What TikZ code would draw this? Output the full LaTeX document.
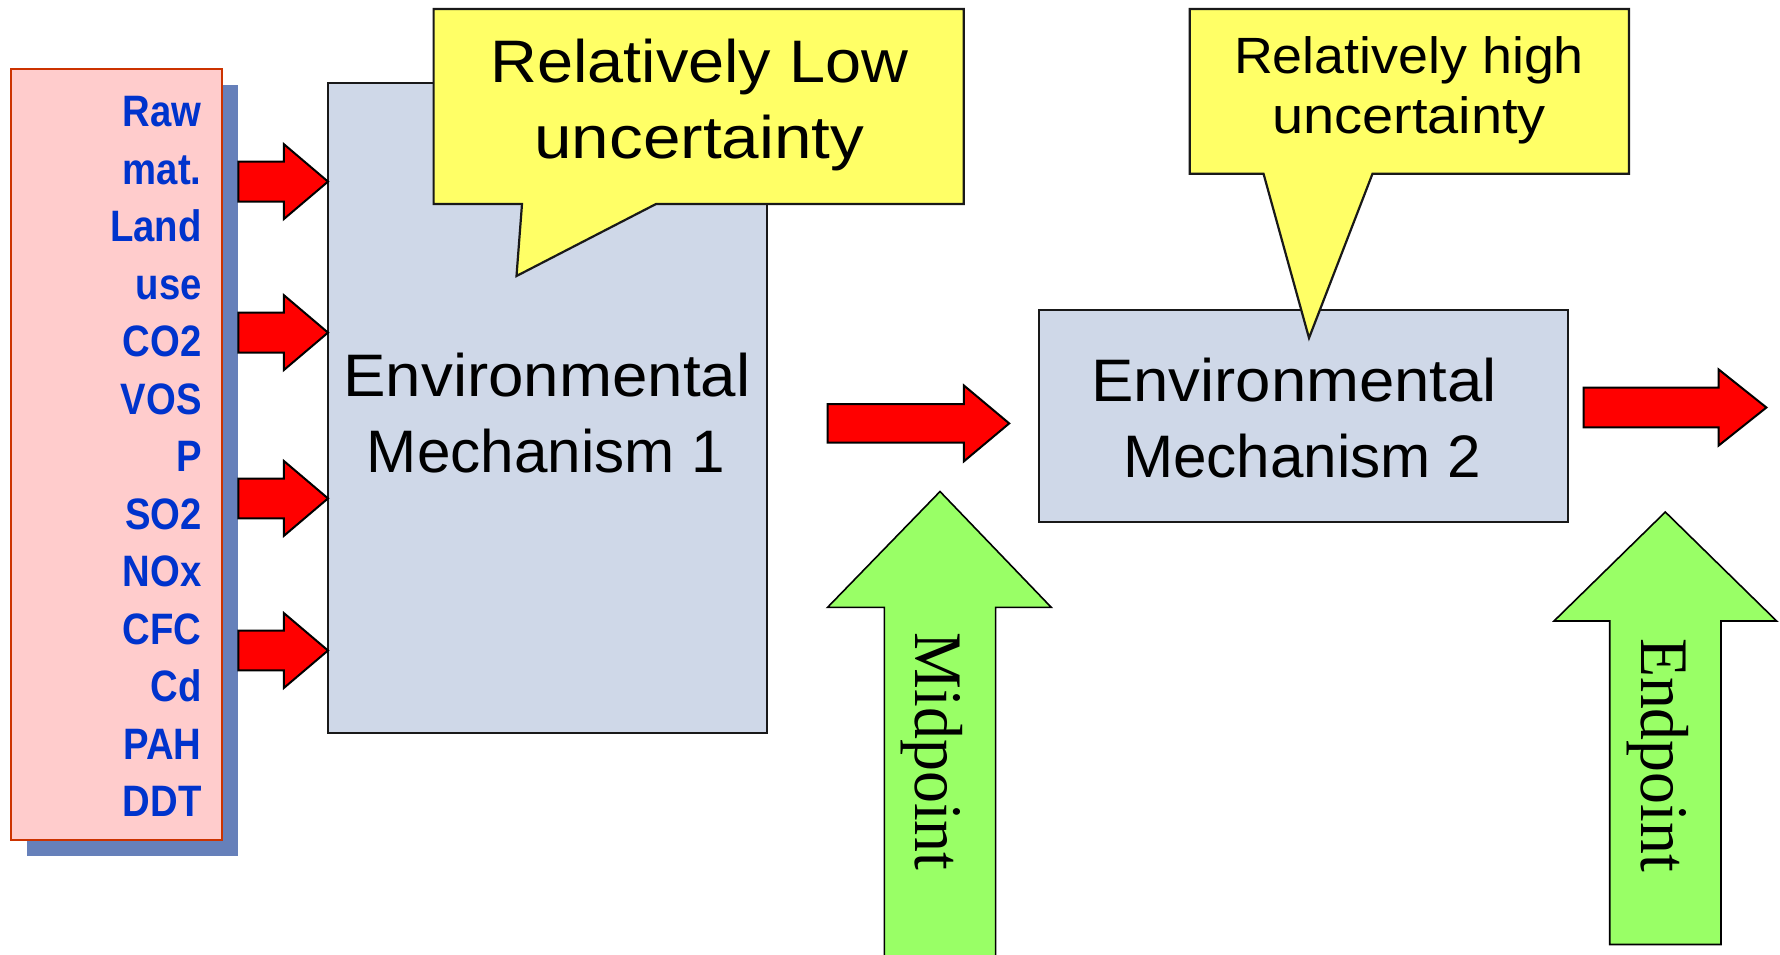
\documentclass[tikz,border=0pt]{standalone}
\usepackage{fontspec}
\usepackage{graphicx}
\setmainfont{Liberation Sans}
\newfontface\listfont[FakeStretch=0.87]{Liberation Sans Bold}
\newfontfamily\seriffont{Liberation Serif}
\newdimen\pxu \pxu=0.5pt
\newcommand{\wfit}[2]{\resizebox{#1\pxu}{\height}{#2}}
\definecolor{pinkfill}{HTML}{FFCCCC}
\definecolor{pinkedge}{HTML}{CC3300}
\definecolor{shadowblue}{HTML}{6680BA}
\definecolor{boxfill}{HTML}{CFD8E8}
\definecolor{calloutyellow}{HTML}{FFFF66}
\definecolor{arrowred}{HTML}{FF0000}
\definecolor{arrowgreen}{HTML}{99FF66}
\definecolor{listblue}{HTML}{0033CC}
\newcommand{\rarrow}[6]{% x0, xhead, xtip, yc, shafthalf, headhalf
  \draw[redarrow] (#1,#4-#5) -- (#2,#4-#5) -- (#2,#4-#6) -- (#3,#4) -- (#2,#4+#6) -- (#2,#4+#5) -- (#1,#4+#5) -- cycle;}
\newcommand{\uarrow}[7]{% xtip, ytip, yheadbase, xheadleft, xheadright, xshaftleft, xshaftright ; bottom in \ybot
  \draw[greenarrow] (#1,#2) -- (#5,#3) -- (#7,#3) -- (#7,\ybot) -- (#6,\ybot) -- (#6,#3) -- (#4,#3) -- cycle;}
\begin{document}
\begin{tikzpicture}[x=0.5pt,y=-0.5pt,
  mechbox/.style={draw=black!90, line width=1.1pt, fill=boxfill, inner sep=0},
  callout/.style={draw=black!90, line width=1.1pt, fill=calloutyellow, line join=miter},
  redarrow/.style={draw=black, line width=1pt, fill=arrowred, line join=miter},
  greenarrow/.style={draw=black, line width=0.8pt, fill=arrowgreen, line join=miter},
  bigtxt/.style={font=\fontsize{30pt}{36pt}\selectfont, anchor=base, inner sep=0},
  hightxt/.style={font=\fontsize{25.5pt}{30pt}\selectfont, anchor=base, inner sep=0},
  listtxt/.style={font=\listfont\fontsize{22pt}{26pt}\selectfont, text=listblue, anchor=base east, inner sep=0},
  verttxt/.style={font=\seriffont\fontsize{34pt}{40pt}\selectfont, rotate=-90, anchor=base, inner sep=0}]
\useasboundingbox (0,0) rectangle (1780,954);
\fill[white] (0,0) rectangle (1780,954);

% substance list with shadow
\node[fill=shadowblue, minimum width=105.5pt, minimum height=385.5pt, inner sep=0] (shadow) at (132.5,470.5) {};
\node[draw=pinkedge, line width=1.1pt, fill=pinkfill, minimum width=105.5pt, minimum height=385.5pt, inner sep=0] (list) at (116.5,454.5) {};
\foreach \w [count=\i from 0] in {Raw,mat.,Land,use,CO2,VOS,P,SO2,NOx,CFC,Cd,PAH,DDT}
  \node[listtxt] (li\i) at (202,{126.7+57.5*\i}) {\w};

% mechanism 1
\node[mechbox, minimum width=219.5pt, minimum height=325pt] (m1) at (547.5,408) {};
\node[bigtxt] (m1a) at (547,396) {\wfit{407}{Environmental}};
\node[bigtxt] (m1b) at (546,472) {\wfit{358}{Mechanism 1}};

% input arrows
\rarrow{238.4}{283.8}{328}{181.6}{19.9}{37.5}
\rarrow{238.4}{283.8}{328}{332.6}{19.9}{37.5}
\rarrow{238.4}{283.8}{328}{498.4}{19.9}{37.5}
\rarrow{238.4}{283.8}{328}{650.5}{19.9}{37.5}

% callout 1
\draw[callout] (433.6,9) -- (963.8,9) -- (963.8,204) -- (656,204) -- (516.5,276) -- (522,204) -- (433.6,204) -- cycle;
\node[bigtxt] (c1a) at (699.3,82) {\wfit{418}{Relatively Low}};
\node[bigtxt] (c1b) at (699.3,158) {\wfit{330}{uncertainty}};

% mechanism 2
\node[mechbox, minimum width=264.5pt, minimum height=106pt] (m2) at (1303.2,416) {};
\node[bigtxt] (m2a) at (1294,401) {\wfit{406}{Environmental}};
\node[bigtxt] (m2b) at (1302,477) {\wfit{358}{Mechanism 2}};

% callout 2
\draw[callout] (1189.7,9) -- (1629,9) -- (1629,173.7) -- (1372.5,173.7) -- (1309,338) -- (1263.5,173.7) -- (1189.7,173.7) -- cycle;
\node[hightxt] (c2a) at (1409,73) {\wfit{350}{Relatively high}};
\node[hightxt] (c2b) at (1409,133) {\wfit{274}{uncertainty}};

% red arrows
\rarrow{827.6}{963.8}{1009.2}{423.4}{19.3}{38}
\rarrow{1583.6}{1718.7}{1766.4}{407.5}{19.9}{38}

% green arrows
\def\ybot{975}
\uarrow{940}{491.5}{607.3}{827.6}{1051.2}{884.3}{995.6}
\node[verttxt] (mid) at (915.5,751.5) {\wfit{238}{Midpoint}};
\def\ybot{944.5}
\uarrow{1665.3}{512}{621}{1554}{1776.6}{1609.7}{1721}
\node[verttxt] (end) at (1641,755) {\wfit{234}{Endpoint}};
\end{tikzpicture}
\end{document}
